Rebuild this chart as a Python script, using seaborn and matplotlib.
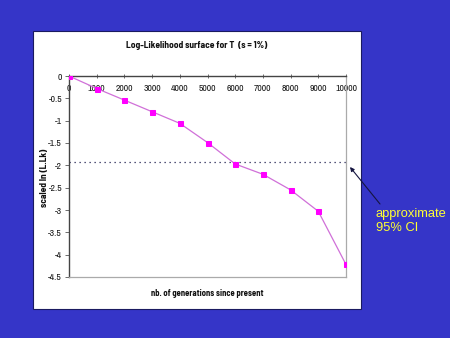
import matplotlib
matplotlib.use("Agg")
import matplotlib.pyplot as plt
from matplotlib.patches import Rectangle
import seaborn as sns
import pandas as pd

generations = [0, 1000, 2000, 3000, 4000, 5000, 6000, 7000, 8000, 9000, 10000]
scaled_ln_lik = [0.0, -0.28, -0.54, -0.80, -1.06, -1.49, -1.97, -2.20, -2.55, -3.03, -4.22]
ci_level = -1.92
x_ticks = [0, 1000, 2000, 3000, 4000, 5000, 6000, 7000, 8000, 9000, 10000]
y_ticks = [0, -0.5, -1, -1.5, -2, -2.5, -3, -3.5, -4, -4.5]
y_tick_labels = ["0", "-0.5", "-1", "-1.5", "-2", "-2.5", "-3", "-3.5", "-4", "-4.5"]

sns.set_theme(style="white")
plt.rcParams['font.family'] = ['Archivo Narrow', 'Liberation Sans', 'DejaVu Sans']
bold_family = ['Barlow Semi Condensed', 'Liberation Sans', 'DejaVu Sans']

W, H = 450, 338
fig = plt.figure(figsize=(4.5, 3.38), dpi=100)
fig.patch.set_facecolor('#3535c8')

# white chart panel
panel = Rectangle((33 / W, 1 - 309 / H), (361 - 33) / W, (309 - 31) / H,
                  transform=fig.transFigure, facecolor='white',
                  edgecolor='#1a1a60', linewidth=0.8, zorder=-5)
fig.patches.append(panel)

ax = fig.add_axes([69 / W, 1 - 277 / H, (346 - 69) / W, (277 - 76) / H])
ax.set_zorder(1)
ax.set_facecolor('white')

df = pd.DataFrame({"gen": generations, "lik": scaled_ln_lik})
sns.lineplot(data=df, x="gen", y="lik", ax=ax, color='#d070d8', linewidth=0.9,
             marker='s', markersize=3.6, markerfacecolor='#ff00ff',
             markeredgecolor='#ff00ff', zorder=3)

ax.axhline(ci_level, color='#202050', linestyle=(0, (1, 3)), linewidth=0.9, zorder=2)

ax.set_xlim(0, 10000)
ax.set_ylim(-4.5, 0)
ax.set_xticks(x_ticks)
ax.set_xticklabels([str(v) for v in x_ticks])
ax.set_yticks(y_ticks)
ax.set_yticklabels(y_tick_labels)

ax.xaxis.set_ticks_position('top')
ax.tick_params(axis='x', top=True, bottom=False, labeltop=True, labelbottom=False,
               direction='inout', length=3, width=0.6, color='#555555',
               pad=-14, labelsize=7, labelcolor='#1a1a1a')
ax.tick_params(axis='y', left=True, direction='out', length=3, width=0.6,
               color='#555555', pad=2, labelsize=7, labelcolor='#1a1a1a')

for side in ['left', 'top']:
    ax.spines[side].set_color('#444444')
    ax.spines[side].set_linewidth(1.0)
for side in ['right', 'bottom']:
    ax.spines[side].set_color('#aaaaaa')
    ax.spines[side].set_linewidth(0.9)
    ax.spines[side].set_visible(True)

ax.set_xlabel("")
ax.set_ylabel("")

fig.text(197 / W, 1 - 45 / H, "Log-Likelihood surface for T  (s = 1%)",
         ha='center', va='center', fontsize=6.8, fontweight='bold', color='#111111',
         family=bold_family)
fig.text(207 / W, 1 - 293 / H, "nb. of generations since present",
         ha='center', va='center', fontsize=6.2, fontweight='bold', color='#111111',
         family=bold_family)
fig.text(44 / W, 1 - 178 / H, "scaled ln (L.Lk)", rotation=90,
         ha='center', va='center', fontsize=6.8, fontweight='bold', color='#111111',
         family=bold_family)

fig.text(376 / W, 1 - 221 / H, "approximate\n95% CI", ha='left', va='center',
         fontsize=9.3, color='#ffff33', linespacing=1.15,
         family=['Liberation Sans', 'DejaVu Sans'])

ax.annotate("", xy=(350 / W, 1 - 167 / H), xycoords='figure fraction',
            xytext=(380 / W, 1 - 204 / H), textcoords='figure fraction',
            arrowprops=dict(arrowstyle='-|>', color='#151540', lw=0.8,
                            mutation_scale=6, shrinkA=0, shrinkB=0),
            annotation_clip=False)

fig.savefig("out.png", dpi=100, facecolor=fig.get_facecolor())
